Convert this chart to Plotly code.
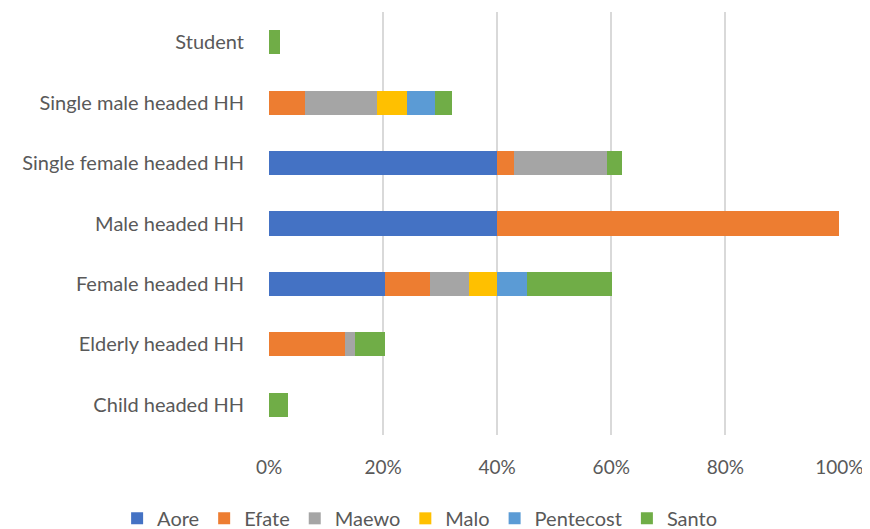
import plotly.graph_objects as go

# categories, bottom to top as drawn
categorias = ['Child headed HH', 'Elderly headed HH', 'Female headed HH',
              'Male headed HH', 'Single female headed HH',
              'Single male headed HH', 'Student']

# share per island (fraction of 1)
aore = [0, 0, 0.203, 0.40, 0.40, 0, 0]
efate = [0, 0.134, 0.079, 0.60, 0.029, 0.063, 0]
maewo = [0, 0.017, 0.069, 0, 0.164, 0.126, 0]
malo = [0, 0, 0.049, 0, 0, 0.053, 0]
pentecost = [0, 0, 0.052, 0, 0, 0.049, 0]
santo = [0.033, 0.052, 0.149, 0, 0.025, 0.029, 0.019]

series = [
    ('Aore', aore, '#4472C4'),
    ('Efate', efate, '#ED7D31'),
    ('Maewo', maewo, '#A5A5A5'),
    ('Malo', malo, '#FFC000'),
    ('Pentecost', pentecost, '#5B9BD5'),
    ('Santo', santo, '#70AD47'),
]

fig = go.Figure()
for nombre, valores, color in series:
    fig.add_trace(go.Bar(
        y=categorias, x=valores, name=nombre, orientation='h',
        marker=dict(color=color, line=dict(width=0)),
        hovertemplate=nombre + ': %{x:.1%}<extra></extra>'
    ))

# page body has an 8px margin on the left/top
fig.update_layout(
    barmode='stack',
    bargap=0.6,
    width=862, height=521,
    paper_bgcolor='white', plot_bgcolor='white',
    font=dict(family='Lato, sans-serif', size=20, color='#595959'),
    margin=dict(l=261, r=30, t=4, b=94, autoexpand=False),
    legend=dict(
        orientation='h', xref='paper', yref='paper',
        x=-0.266, xanchor='left', y=-0.197, yanchor='middle',
        font=dict(size=20, color='#595959'),
        itemwidth=30, traceorder='normal', bgcolor='rgba(0,0,0,0)'
    ),
    showlegend=True
)

fig.update_xaxes(
    range=[0, 1.001], tickvals=[0, 0.2, 0.4, 0.6, 0.8, 1.0], tickformat='.0%',
    showgrid=True, gridcolor='#D9D9D9', gridwidth=2,
    zeroline=False, showline=False, ticklabeloverflow='allow',
    tickfont=dict(size=19),
    ticks='outside', ticklen=15, tickcolor='rgba(0,0,0,0)'
)
fig.update_yaxes(
    showgrid=False, zeroline=False, showline=False,
    ticks='outside', ticklen=20, tickcolor='rgba(0,0,0,0)'
)

fig.write_html('out.html')
